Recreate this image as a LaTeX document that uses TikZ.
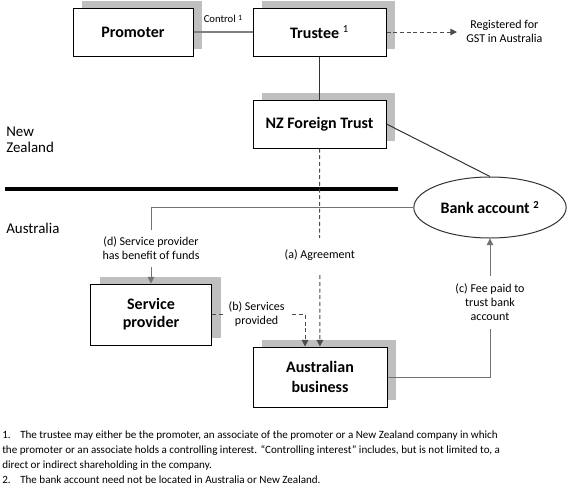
\documentclass[tikz,border=0pt]{standalone}
\usepackage{fontspec}
\setmainfont{Carlito}
\usetikzlibrary{shapes.geometric, arrows.meta, positioning, calc, shadows}

\begin{document}
\begin{tikzpicture}[
    x=0.75pt, y=-0.75pt,
    box/.style={draw, line width=0.75pt, fill=white, align=center, inner sep=0pt,
        font=\fontsize{12}{14}\selectfont\bfseries,
        drop shadow={shadow xshift=6.75pt, shadow yshift=5.25pt, fill=black!25, opacity=1}},
    conn/.style={draw=black!55, line width=0.75pt},
    dark/.style={draw=black!80, line width=0.75pt},
    dashline/.style={draw=black!70, line width=0.75pt, dash pattern=on 3pt off 2pt},
    arrow/.style={-{Triangle[length=5pt, width=5pt]}},
    lbl/.style={font=\fontsize{9}{10.5}\selectfont, align=center, fill=white}
]
    \useasboundingbox (0,0) rectangle (569,494);

    % Divider between the two countries
    \coordinate (divL) at (5,189);
    \coordinate (divR) at (398,189);
    \draw[line width=3pt] (divL) -- (divR);

    % New Zealand side
    \node[box, minimum width=90pt, minimum height=36pt] (promoter) at (133,32) {Promoter};
    \node[box, minimum width=99.75pt, minimum height=36pt] (trustee) at (319.5,32) {Trustee {\mdseries\textsuperscript{1}}};
    \node[box, minimum width=99.75pt, minimum height=36pt] (nzft) at (319.5,124) {NZ Foreign Trust};
    \node[lbl, anchor=west, fill=none, inner xsep=6.75pt] (gst) at (457,31) {Registered for\\GST in Australia};
    \node[draw=black!80, line width=0.75pt, ellipse, minimum width=114pt, minimum height=45.75pt,
        font=\fontsize{12}{14}\selectfont\bfseries] (bank) at (490,207.5) {Bank account \textsuperscript{2}};

    % Australian side
    \node[box, minimum width=90.75pt, minimum height=45.75pt, font=\fontsize{12}{13.5}\selectfont\bfseries] (sp) at (151,314.5) {Service\\provider};
    \node[box, minimum width=100.5pt, minimum height=45pt, font=\fontsize{12}{15}\selectfont\bfseries] (ab) at (320,377) {Australian\\business};

    % Region names
    \node[anchor=west, align=left, inner sep=0pt, font=\fontsize{11.2}{12}\selectfont] (nz) at (6,140) {New\\Zealand};
    \node[anchor=west, inner sep=0pt, font=\fontsize{11.2}{12}\selectfont] (aus) at (6,228) {Australia};

    % Connectors
    \draw[conn, draw=black!50, line width=1.5pt] (promoter) -- node[above, font=\fontsize{8}{9}\selectfont, inner sep=6pt] {Control {\fontsize{6}{7}\selectfont\raisebox{0.6ex}{1}}} (trustee);
    \draw[dashline, arrow] (trustee.east) -- (trustee.east -| gst.west);
    \draw[dark] (trustee) -- (nzft);
    \draw[dark] (nzft.east) -- (bank.north);
    \draw[dashline, arrow] (nzft) -- node[lbl, pos=0.54, inner ysep=9pt] {(a) Agreement} (ab);
    \draw[conn, arrow] (bank.west) -| node[lbl, pos=0.77, inner ysep=5pt] {(d) Service provider\\has benefit of funds} (sp.north);
    \draw[dashline, arrow] (sp.east) -| node[lbl, pos=0.24, inner xsep=4pt, inner ysep=1pt] {(b) Services\\provided} ($(ab.north)+(-15,0)$);
    \draw[conn, arrow] (ab.east) -| node[lbl, pos=0.77, inner ysep=6pt] {(c) Fee paid to\\trust bank\\account} (bank.south);

    % Notes
    \node[anchor=north west, align=left, inner sep=0pt, font=\fontsize{8.3}{11.25}\selectfont] (notes) at (2,431) {%
        \makebox[13.5pt][l]{1.}The trustee may either be the promoter, an associate of the promoter or a New Zealand company in which\\
        the promoter or an associate holds a controlling interest. “Controlling interest” includes, but is not limited to, a\\
        direct or indirect shareholding in the company.\\
        \makebox[13.5pt][l]{2.}The bank account need not be located in Australia or New Zealand.};
\end{tikzpicture}
\end{document}
